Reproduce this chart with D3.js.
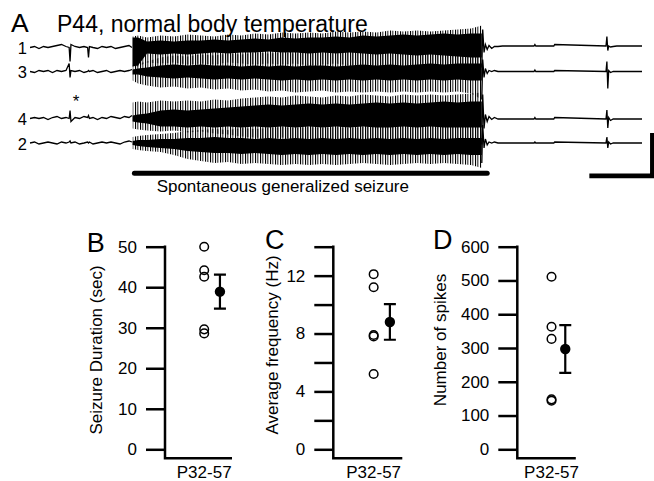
<!DOCTYPE html>
<html>
<head>
<meta charset="utf-8">
<script src="https://d3js.org/d3.v7.min.js"></script>
<style>
body { margin: 0; background: #fff; }
svg { display: block; font-family: "Liberation Sans", Arial, Helvetica, sans-serif; }
</style>
</head>
<body>
<svg></svg>
<script>
// ---- panel A: EEG traces (time in s, amplitude in trace units, up = positive)
var preT  = [0, 0.5, 1, 1.5, 2, 2.5, 3, 3.5, 4, 4.35, 4.45, 4.55, 5, 5.5, 6, 6.4, 6.5, 6.6, 7, 7.5, 8, 8.5, 9, 9.5, 10, 10.5, 11, 11.33];
var ch1Pre = [0, 1, -1, 1, 0, 1, 2, 3, 1, 0, -14, 3, 1, 0, 1, 0, -10, 1, 0, -1, 1, 0, 1, -1, 0, 1, 2, 0];
var ch3Pre = [0, -1, 1, 0, 1, -1, 1, 0, 1, 8, -6, 1, 0, 1, -1, 0, 1, 0, 1, -1, 0, 1, -1, 0, 1, 0, 1, 2];
var ch4Pre = [0, 1, 0, 1, -1, 1, 2, 0, 1, 0, 8, -3, 1, 0, 2, 1, 3, 0, 1, -1, 1, 0, 2, 1, 0, 2, 1, 3];
var ch2Pre = [0, 1, -1, 0, 1, 0, -1, 1, 0, 1, 2, 0, 1, -1, 0, 1, 0, 1, -1, 0, 1, 0, 1, 0, -1, 1, 2, 1];

// seizure envelopes: outer high, core high, core low, outer low
var seizT = [11.4, 12, 13, 14.5, 16, 17.5, 19, 20.5, 22, 23.5, 25, 26.5, 28, 29.5, 31, 32.5, 34, 35.5, 37, 38.5, 40, 41.5, 43, 44.5, 46, 47.5, 49, 50.2];
var ch1OuterHi = [11, 12, 10, 12, 11, 13, 12, 11, 13, 12, 14, 13, 15, 14, 15, 14, 16, 15, 16, 15, 17, 16, 17, 16, 17, 18, 19, 22];
var ch1CoreHi  = [10, 10, 6, 7, 6, 7, 7, 8, 7, 8, 9, 8, 10, 9, 10, 10, 11, 10, 12, 11, 12, 13, 12, 13, 14, 13, 14, 14];
var ch1CoreLo  = [-19, -18, -6, -7, -6, -7, -6, -5, -6, -5, -5, -4, -5, -5, -6, -5, -6, -5, -6, -7, -6, -7, -8, -7, -8, -9, -10, -10];
var ch1OuterLo = [-19, -19, -15, -16, -15, -17, -16, -17, -15, -16, -17, -16, -17, -16, -18, -17, -16, -18, -17, -18, -17, -19, -18, -19, -18, -20, -22, -30];

var ch3OuterHi = [6, 8, 10, 14, 16, 15, 17, 16, 18, 17, 19, 18, 19, 18, 20, 19, 18, 20, 19, 20, 19, 20, 19, 20, 21, 20, 21, 22];
var ch3CoreHi  = [2, 3, 4, 6, 7, 6, 7, 6, 6, 5, 6, 5, 6, 5, 6, 6, 5, 6, 7, 6, 7, 6, 7, 8, 7, 8, 8, 8];
var ch3CoreLo  = [-3, -3, -5, -6, -7, -6, -7, -8, -7, -8, -7, -8, -9, -8, -9, -8, -9, -8, -9, -8, -9, -8, -9, -8, -9, -8, -9, -9];
var ch3OuterLo = [-9, -12, -14, -16, -15, -17, -16, -18, -17, -19, -18, -20, -19, -21, -20, -19, -21, -20, -21, -20, -21, -20, -21, -20, -21, -20, -22, -28];

var ch4OuterHi = [16, 17, 16, 18, 17, 18, 17, 19, 18, 20, 21, 22, 21, 23, 22, 21, 23, 22, 24, 23, 22, 24, 23, 24, 23, 24, 25, 26];
var ch4CoreHi  = [3, 4, 5, 8, 9, 8, 9, 10, 11, 12, 13, 14, 13, 14, 15, 14, 15, 14, 15, 16, 15, 16, 15, 16, 17, 16, 17, 17];
var ch4CoreLo  = [-3, -4, -5, -8, -8, -9, -8, -9, -8, -9, -8, -9, -8, -9, -8, -9, -8, -9, -8, -9, -9, -8, -9, -8, -9, -9, -9, -9];
var ch4OuterLo = [-10, -11, -12, -13, -12, -14, -13, -15, -16, -18, -19, -20, -19, -20, -21, -20, -21, -20, -21, -20, -21, -20, -21, -20, -21, -21, -22, -28];

var ch2OuterHi = [6, 7, 8, 9, 10, 12, 13, 14, 13, 15, 14, 15, 16, 15, 16, 15, 16, 15, 16, 17, 16, 17, 16, 17, 16, 17, 18, 20];
var ch2CoreHi  = [2, 3, 3, 4, 4, 5, 5, 6, 5, 5, 4, 5, 4, 5, 4, 5, 4, 5, 4, 5, 4, 5, 4, 5, 4, 5, 5, 5];
var ch2CoreLo  = [-2, -3, -4, -5, -6, -8, -9, -10, -10, -11, -10, -11, -12, -11, -12, -11, -12, -11, -12, -11, -12, -11, -12, -11, -12, -11, -12, -12];
var ch2OuterLo = [-6, -7, -8, -9, -12, -16, -18, -20, -19, -21, -20, -21, -22, -21, -22, -21, -22, -21, -20, -21, -22, -21, -20, -21, -20, -21, -22, -25];

var postT = [50.2, 50.3, 50.45, 50.6, 50.8, 51.0, 51.3, 51.6, 52, 52.5, 53, 56, 56.1, 56.2, 58.2, 58.3, 64.0, 64.1, 64.2, 64.3, 64.5, 64.8, 65.2, 66, 68];
var ch1Post = [-20, 18, -5, 3, -2, 2, -1, 1, 1, 1.5, 1.5, 1.5, 3, 1.5, 1.5, 3, 1.5, 11, -3, 1.5, 0.5, 1, 1.5, 1.5, 1.5];
var ch3Post = [-28, 12, -6, 3, -2, 1, 0, 1, 0, 0, 0, 0, 1.5, 0, 0, 1, 0, 10, -17, 1, -1, 0, 0, 0, 0];
var ch4Post = [-26, 24, -10, 4, -3, 2, -1, 1, -0.5, -0.5, -0.5, -0.5, 1, -0.5, -0.5, 1, -0.5, 8.5, -9.5, 1, -2, -0.5, -0.5, -0.5, -0.5];
var ch2Post = [-20, 18, -5, 4, -2, 1, 0, 1, 0, 0, 0, 0, 1, 0, 0, 1, 0, 6, -5, 1, -1, 0, 0, 0, 0];

var seizureBarT = [11.6, 50.8];
var scaleBarSec = 7, scaleBarAmp = 43;

// ---- panels B-D: individual animals, mean and SEM
var groupName = "P32-57";
var durVals = [50, 44.2, 42.6, 29.6, 28.6];
var durMean = 38.9, durSem = 4.2;
var durTicks = [0, 10, 20, 30, 40, 50];

var freqVals = [12.1, 11.2, 7.9, 7.8, 5.2];
var freqMean = 8.8, freqSem = 1.23;
var freqTicks = [0, 2, 4, 6, 8, 10, 12, 14];
var freqLabeled = [0, 4, 8, 12];

var spikeVals = [511, 363, 327, 148, 144];
var spikeMean = 297, spikeSem = 70.5;
var spikeTicks = [0, 100, 200, 300, 400, 500, 600];


var svg = d3.select("svg")
    .attr("width", 654)
    .attr("height", 481);

// dense spiking fringe drawn as a fine vertical hatch
var hatch = svg.append("defs").append("pattern")
    .attr("id", "hatch")
    .attr("patternUnits", "userSpaceOnUse")
    .attr("width", 5).attr("height", 4);
hatch.append("rect").attr("x", 0).attr("y", 0).attr("width", 1.1).attr("height", 4).attr("fill", "#000");
hatch.append("rect").attr("x", 2.4).attr("y", 0).attr("width", 0.9).attr("height", 4).attr("fill", "#000");

var x = d3.scaleLinear().domain([0, 68]).range([30, 642]);

var channels = [
    {name: "1", base: 47.5, pre: ch1Pre, post: ch1Post, env: [ch1OuterHi, ch1CoreHi, ch1CoreLo, ch1OuterLo]},
    {name: "3", base: 71.5, pre: ch3Pre, post: ch3Post, env: [ch3OuterHi, ch3CoreHi, ch3CoreLo, ch3OuterLo]},
    {name: "4", base: 118.5, pre: ch4Pre, post: ch4Post, env: [ch4OuterHi, ch4CoreHi, ch4CoreLo, ch4OuterLo]},
    {name: "2", base: 143, pre: ch2Pre, post: ch2Post, env: [ch2OuterHi, ch2CoreHi, ch2CoreLo, ch2OuterLo]}
];

var gA = svg.append("g");

channels.forEach(function (c) {
    var y = d3.scaleLinear().domain([-30, 30]).range([c.base + 30, c.base - 30]);
    var line = d3.line()
        .x(function (d) { return x(d[0]); })
        .y(function (d) { return y(d[1]); });

    var env = seizT.map(function (t, i) {
        return {t: t, oh: c.env[0][i], ch: c.env[1][i], cl: c.env[2][i], ol: c.env[3][i]};
    });

    gA.append("path")
        .attr("d", d3.area()
            .x(function (d) { return x(d.t); })
            .y0(function (d) { return y(d.ol); })
            .y1(function (d) { return y(d.oh); })(env))
        .attr("fill", "url(#hatch)");

    gA.append("path")
        .attr("d", d3.area()
            .x(function (d) { return x(d.t); })
            .y0(function (d) { return y(d.cl); })
            .y1(function (d) { return y(d.ch); })(env))
        .attr("fill", "#000");

    gA.append("path")
        .attr("d", line(d3.zip(preT, c.pre)))
        .attr("fill", "none").attr("stroke", "#000").attr("stroke-width", 1.3);

    gA.append("path")
        .attr("d", line(d3.zip(postT, c.post)))
        .attr("fill", "none").attr("stroke", "#000").attr("stroke-width", 1.3);

    gA.append("text")
        .attr("x", 27).attr("y", c.base + 6.5)
        .attr("text-anchor", "end")
        .attr("font-size", "16.5px")
        .text(c.name);
});

gA.append("text").attr("x", 76).attr("y", 107)
    .attr("text-anchor", "middle").attr("font-size", "17px").text("*");

gA.append("text").attr("x", 11).attr("y", 32)
    .attr("font-size", "26.5px").text("A");
gA.append("text").attr("x", 57).attr("y", 31.5)
    .attr("font-size", "23px").text("P44, normal body temperature");

// seizure bar
gA.append("line")
    .attr("x1", x(seizureBarT[0])).attr("x2", x(seizureBarT[1]))
    .attr("y1", 173.3).attr("y2", 173.3)
    .attr("stroke", "#000").attr("stroke-width", 5).attr("stroke-linecap", "round");
gA.append("text")
    .attr("x", (x(seizureBarT[0]) + x(seizureBarT[1])) / 2 - 28).attr("y", 192.3)
    .attr("text-anchor", "middle").attr("font-size", "17px")
    .text("Spontaneous generalized seizure");

// scale bar
var sbT = 69.15, sbY = 175.9;
gA.append("path")
    .attr("d", "M" + x(sbT - scaleBarSec) + "," + sbY + "H" + x(sbT) + "V" + (sbY - scaleBarAmp))
    .attr("fill", "none").attr("stroke", "#000").attr("stroke-width", 4.6)
    .attr("stroke-linejoin", "miter");

// ---- panels B, C, D
var panels = [
    {letter: "B", lx: 86.7, ly: 251.5, label: "Seizure Duration (sec)", labX: 101.5, labY: 350,
     vals: durVals, mean: durMean, sem: durSem, ticks: durTicks, labeled: durTicks, axisX: 165, w: 67},
    {letter: "C", lx: 265, ly: 248.5, label: "Average frequency (Hz)", labX: 278, labY: 345,
     vals: freqVals, mean: freqMean, sem: freqSem, ticks: freqTicks, labeled: freqLabeled, axisX: 333.3, w: 69},
    {letter: "D", lx: 433, ly: 249, label: "Number of spikes", labX: 446, labY: 340,
     vals: spikeVals, mean: spikeMean, sem: spikeSem, ticks: spikeTicks, labeled: spikeTicks, axisX: 517.3, w: 58.5}
];

var yTop = 246.7, yZero = 449.3, yBase = 458.3;

panels.forEach(function (p) {
    var g = svg.append("g");
    var y = d3.scaleLinear()
        .domain([0, d3.max(p.ticks)])
        .range([yZero, yTop]);
    var xs = d3.scaleLinear().domain([0, 1]).range([p.axisX, p.axisX + p.w]);

    var ax = g.append("g")
        .attr("transform", "translate(" + p.axisX + ",0)")
        .call(d3.axisLeft(y)
            .tickValues(p.ticks)
            .tickSize(19)
            .tickPadding(9)
            .tickFormat(function (d) { return p.labeled.indexOf(d) >= 0 ? d : ""; }));
    ax.select(".domain").remove();
    ax.selectAll(".tick line").attr("stroke", "#000").attr("stroke-width", 2.5);
    ax.selectAll(".tick text")
        .attr("fill", "#000")
        .attr("font-size", "17px")
        .attr("font-family", "'Liberation Sans', Arial, sans-serif");

    g.append("path")
        .attr("d", "M" + p.axisX + "," + (yTop - 1.2) + "V" + yBase + "H" + xs(1))
        .attr("fill", "none").attr("stroke", "#000").attr("stroke-width", 2.5)
        .attr("stroke-linejoin", "miter");

    g.append("text")
        .attr("transform", "translate(" + p.labX + "," + p.labY + ") rotate(-90)")
        .attr("text-anchor", "middle").attr("font-size", "17px")
        .text(p.label);

    g.append("text").attr("x", p.lx).attr("y", p.ly)
        .attr("font-size", "27px").text(p.letter);

    g.append("text").attr("x", xs(0.585)).attr("y", 478)
        .attr("text-anchor", "middle").attr("font-size", "17px")
        .text(groupName);

    g.selectAll(".dot")
        .data(p.vals)
        .enter().append("circle")
        .attr("class", "dot")
        .attr("cx", xs(0.585))
        .attr("cy", function (d) { return y(d); })
        .attr("r", 4.3)
        .attr("fill", "none").attr("stroke", "#000").attr("stroke-width", 1.5);

    var mx = xs(0.82);
    g.append("path")
        .attr("d", "M" + (mx - 6) + "," + y(p.mean + p.sem) + "H" + (mx + 6) +
                   "M" + mx + "," + y(p.mean + p.sem) + "V" + y(p.mean - p.sem) +
                   "M" + (mx - 6) + "," + y(p.mean - p.sem) + "H" + (mx + 6))
        .attr("fill", "none").attr("stroke", "#000").attr("stroke-width", 2.2);
    g.append("circle")
        .attr("cx", mx).attr("cy", y(p.mean)).attr("r", 5.2)
        .attr("fill", "#000");
});
</script>
</body>
</html>
